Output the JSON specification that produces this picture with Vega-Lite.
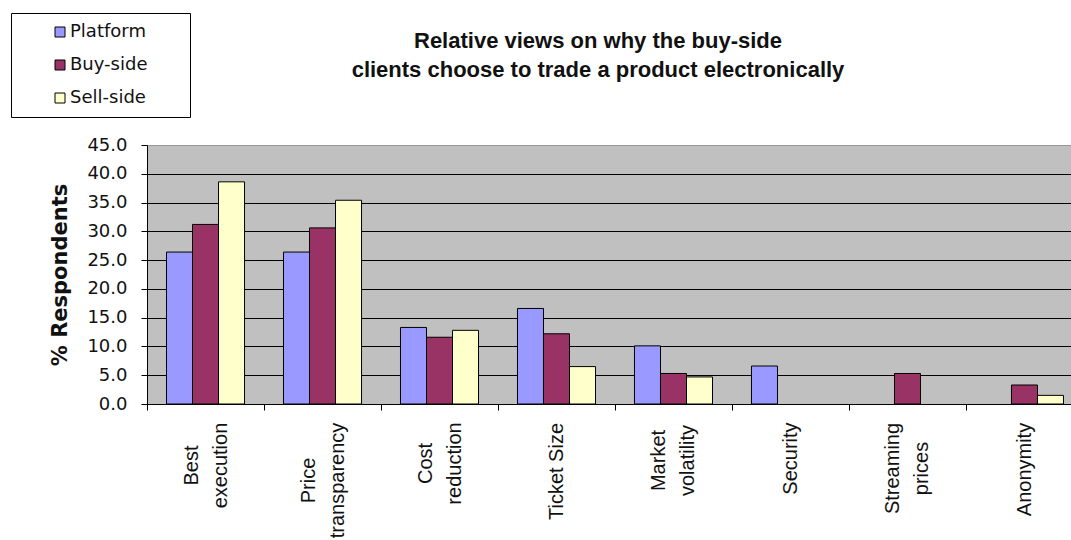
{
  "$schema": "https://vega.github.io/schema/vega-lite/v6.json",
  "width": 924,
  "height": 259,
  "autosize": {"type": "none"},
  "padding": {"left": 147, "top": 145, "right": 0, "bottom": 136},
  "background": "white",
  "title": {
    "text": ["Relative views on why the buy-side", "clients choose to trade a product electronically"],
    "font": "Liberation Sans",
    "fontSize": 22,
    "fontWeight": "bold",
    "color": "#111111",
    "lineHeight": 29,
    "anchor": "middle",
    "frame": "group",
    "offset": 10,
    "dx": -11,
    "dy": 79
  },
  "config": {"view": {"fill": "#C0C0C0", "stroke": null}},
  "data": {
    "values": [
      {"reason": "Best|execution", "series": "Platform", "value": 26.4},
      {"reason": "Best|execution", "series": "Buy-side", "value": 31.2},
      {"reason": "Best|execution", "series": "Sell-side", "value": 38.6},
      {"reason": "Price|transparency", "series": "Platform", "value": 26.4},
      {"reason": "Price|transparency", "series": "Buy-side", "value": 30.6},
      {"reason": "Price|transparency", "series": "Sell-side", "value": 35.4},
      {"reason": "Cost|reduction", "series": "Platform", "value": 13.3},
      {"reason": "Cost|reduction", "series": "Buy-side", "value": 11.6},
      {"reason": "Cost|reduction", "series": "Sell-side", "value": 12.8},
      {"reason": "Ticket Size", "series": "Platform", "value": 16.6},
      {"reason": "Ticket Size", "series": "Buy-side", "value": 12.2},
      {"reason": "Ticket Size", "series": "Sell-side", "value": 6.5},
      {"reason": "Market|volatility", "series": "Platform", "value": 10.1},
      {"reason": "Market|volatility", "series": "Buy-side", "value": 5.3},
      {"reason": "Market|volatility", "series": "Sell-side", "value": 4.7},
      {"reason": "Security", "series": "Platform", "value": 6.6},
      {"reason": "Streaming|prices", "series": "Buy-side", "value": 5.3},
      {"reason": "Anonymity", "series": "Buy-side", "value": 3.3},
      {"reason": "Anonymity", "series": "Sell-side", "value": 1.5}
    ]
  },
  "mark": {"type": "bar", "stroke": "black", "strokeWidth": 1},
  "encoding": {
    "x": {
      "field": "reason",
      "type": "nominal",
      "sort": ["Best|execution", "Price|transparency", "Cost|reduction", "Ticket Size", "Market|volatility", "Security", "Streaming|prices", "Anonymity"],
      "scale": {
        "domain": ["Best|execution", "Price|transparency", "Cost|reduction", "Ticket Size", "Market|volatility", "Security", "Streaming|prices", "Anonymity"],
        "range": [0, 936],
        "paddingInner": 0.333,
        "paddingOuter": 0.1667
      },
      "axis": {
        "title": null,
        "grid": false,
        "tickOffset": -58.5,
        "labelOffset": {"condition": {"test": "indexof(datum.value, '|') >= 0", "value": 44}, "value": 58.5},
        "labelAngle": -90,
        "labelAlign": "center",
        "labelBaseline": "middle",
        "labelFont": "Liberation Sans",
        "labelFontSize": 20,
        "labelLineHeight": 29,
        "labelPadding": {
          "condition": [
            {"test": "datum.value == 'Best|execution'", "value": 55},
            {"test": "datum.value == 'Price|transparency'", "value": 70},
            {"test": "datum.value == 'Cost|reduction'", "value": 53},
            {"test": "datum.value == 'Ticket Size'", "value": 61},
            {"test": "datum.value == 'Market|volatility'", "value": 50},
            {"test": "datum.value == 'Security'", "value": 48},
            {"test": "datum.value == 'Streaming|prices'", "value": 58}
          ],
          "value": 59
        },
        "labelColor": "#111111",
        "labelLimit": 0,
        "labelExpr": "split(datum.label, '|')",
        "tickSize": 6,
        "tickColor": "black",
        "domainColor": "black"
      }
    },
    "xOffset": {
      "field": "series",
      "type": "nominal",
      "sort": ["Platform", "Buy-side", "Sell-side"],
      "scale": {"domain": ["Platform", "Buy-side", "Sell-side"], "paddingInner": 0, "paddingOuter": 0}
    },
    "y": {
      "field": "value",
      "type": "quantitative",
      "scale": {"domain": [0, 45], "nice": false},
      "axis": {
        "values": [0, 5, 10, 15, 20, 25, 30, 35, 40, 45],
        "format": ".1f",
        "title": "% Respondents",
        "titleFont": "DejaVu Sans",
        "titleFontSize": 21,
        "titleFontWeight": "bold",
        "titleColor": "#111111",
        "titlePadding": 16,
        "labelFont": "DejaVu Sans",
        "labelFontSize": 18,
        "labelColor": "#111111",
        "labelPadding": 14,
        "tickSize": 6,
        "tickColor": "black",
        "domainColor": "black",
        "grid": true,
        "gridOpacity": 1,
        "gridColor": {"condition": {"test": "datum.value == 45", "value": "#999999"}, "value": "black"}
      }
    },
    "color": {
      "field": "series",
      "type": "nominal",
      "scale": {"domain": ["Platform", "Buy-side", "Sell-side"], "range": ["#9999FF", "#993366", "#FFFFCC"]},
      "legend": {
        "orient": "none",
        "legendX": -136,
        "legendY": -132,
        "title": "\u00a0",
        "titleOrient": "right",
        "titleFontSize": 18,
        "titlePadding": 33,
        "strokeColor": "black",
        "fillColor": "white",
        "padding": 10,
        "symbolType": "square",
        "symbolSize": 100,
        "symbolStrokeColor": "black",
        "symbolStrokeWidth": 1,
        "symbolOpacity": 1,
        "symbolOffset": 30,
        "labelOffset": 1,
        "labelFont": "DejaVu Sans",
        "labelFontSize": 18,
        "labelColor": "#111111",
        "rowPadding": 15
      }
    }
  }
}
